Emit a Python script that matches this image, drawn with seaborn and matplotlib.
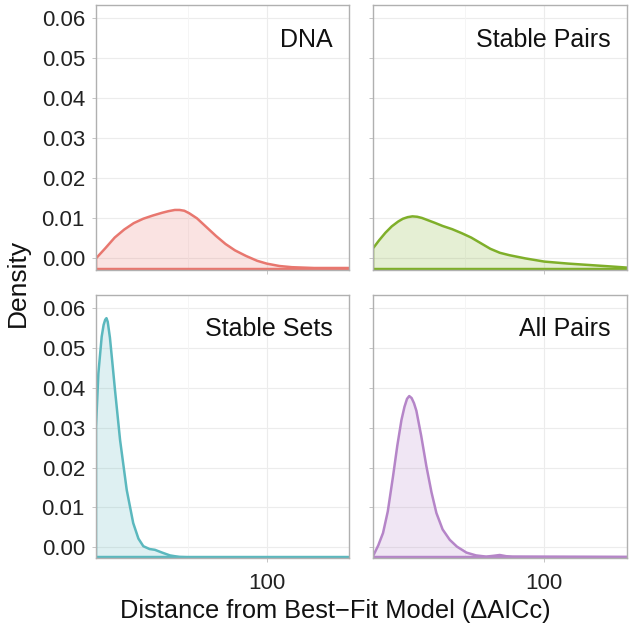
import matplotlib
matplotlib.use("Agg")
import matplotlib.pyplot as plt
import seaborn as sns
import pandas as pd
import numpy as np

sns.set_theme(style="white")
plt.rcParams['font.family'] = ['Liberation Sans', 'DejaVu Sans']

# ---- data (x: ΔAICc, y: density) ----
panels = ["DNA", "Stable Pairs", "Stable Sets", "All Pairs"]
colors = ["#E8776F", "#7FAF2A", "#5BB8BE", "#B585C8"]

dna_x = [-7.8, -2, 4, 10, 16, 22, 28, 34, 38, 42, 45, 48, 51, 56, 62, 68, 74, 80, 87, 94, 100, 108, 116, 130, 152]
dna_y = [0.0000, 0.0025, 0.0052, 0.0072, 0.0088, 0.0099, 0.0107, 0.0114, 0.0118, 0.0121, 0.0121, 0.0119,
         0.0113, 0.0100, 0.0078, 0.0056, 0.0036, 0.0020, 0.0006, -0.0006, -0.0013, -0.0019, -0.0022,
         -0.0024, -0.0024]

sp_x = [-7.8, -4, 0, 4, 8, 11, 14, 17, 20, 23, 27, 31, 36, 42, 48, 54, 60, 66, 72, 78, 88, 100, 115, 130, 145, 152]
sp_y = [0.0025, 0.0045, 0.0064, 0.0080, 0.0092, 0.0099, 0.0103, 0.0105, 0.0104, 0.0101, 0.0095, 0.0089,
        0.0081, 0.0073, 0.0063, 0.0052, 0.0038, 0.0024, 0.0014, 0.0008, 0.0000, -0.0008, -0.0013,
        -0.0017, -0.0021, -0.0023]

ss_x = [-7.8, -6.3, -4.2, -3.0, -2.0, -1.2, -0.4, 1.0, 2.6, 4.2, 7.4, 11.6, 15.7, 19, 22.1, 26, 29.4, 34,
        38.9, 45, 52, 152]
ss_y = [0.0302, 0.0436, 0.0528, 0.0557, 0.0570, 0.0574, 0.0565, 0.0525, 0.0460, 0.0394, 0.0269, 0.0144,
        0.0061, 0.0022, 0.0003, -0.0004, -0.0006, -0.0013, -0.0020, -0.0024, -0.0025, -0.0026]

ap_x = [-7.8, -4.5, -1.5, 1.5, 4.8, 7.5, 10.1, 12.0, 13.6, 15.0, 16.5, 18.0, 19.5, 22.5, 25.8, 29, 32.1,
        36, 40.5, 45, 51, 57, 63.4, 68, 71.9, 76, 80, 152]
ap_y = [-0.0022, 0.0005, 0.0036, 0.0090, 0.0178, 0.0255, 0.0319, 0.0352, 0.0372, 0.0379, 0.0374, 0.0361,
        0.0342, 0.0280, 0.0203, 0.0138, 0.0086, 0.0045, 0.0019, 0.0002, -0.0013, -0.0020, -0.0023,
        -0.0021, -0.0019, -0.0022, -0.0023, -0.0024]

y_ticks = [0.00, 0.01, 0.02, 0.03, 0.04, 0.05, 0.06]
y_tick_labels = ["0.00", "0.01", "0.02", "0.03", "0.04", "0.05", "0.06"]
x_ticks = [100]
x_tick_labels = ["100"]

series = [(dna_x, dna_y), (sp_x, sp_y), (ss_x, ss_y), (ap_x, ap_y)]

XMIN, XMAX = -7.8, 152
YLIMS = [(-0.0029, 0.0633), (-0.0029, 0.0633), (-0.00265, 0.0632), (-0.00265, 0.0632)]

W, H = 633, 636
fig = plt.figure(figsize=(W / 100, H / 100), dpi=100)
fig.patch.set_facecolor("white")

boxes = [(96, 349, 5, 270), (373, 627, 5, 270), (96, 349, 295, 558), (373, 627, 295, 558)]

for i, (name, col, (xs, ys)) in enumerate(zip(panels, colors, series)):
    l, r, t, b = boxes[i]
    ax = fig.add_axes([l / W, 1 - b / H, (r - l) / W, (b - t) / H])
    ymin, ymax = YLIMS[i]
    ax.set_xlim(XMIN, XMAX)
    ax.set_ylim(ymin, ymax)

    # grid
    for yt in y_ticks:
        ax.axhline(yt, color="#ececec", lw=0.8, zorder=0)
    ax.axvline(100, color="#ececec", lw=0.8, zorder=0)
    ax.axvline(50, color="#f4f4f4", lw=0.6, zorder=0)

    # closed outline path like ggplot's density polygon
    px = [xs[0]] + list(xs) + [xs[-1]]
    py = [ymin] + list(ys) + [ymin]
    df = pd.DataFrame({"x": px, "y": py})
    ax.fill_between(xs, ys, ymin, color=col, alpha=0.2, lw=0, zorder=1)
    sns.lineplot(data=df, x="x", y="y", sort=False, color=col, lw=1.8, ax=ax, zorder=3,
                 estimator=None)
    ax.plot([XMIN, XMAX], [ymin, ymin], color=col, lw=3.2, zorder=3, solid_capstyle="butt")

    ax.set_xlabel("")
    ax.set_ylabel("")
    ax.set_yticks(y_ticks)
    ax.set_xticks(x_ticks)
    if i in (0, 2):
        ax.set_yticklabels(y_tick_labels)
    else:
        ax.set_yticklabels([])
    if i in (2, 3):
        ax.set_xticklabels(x_tick_labels)
    else:
        ax.set_xticklabels([])
    ax.tick_params(axis="both", which="both", length=3, width=0.6, color="#bbbbbb",
                   labelsize=16, labelcolor="#222222", left=True, bottom=True)
    ax.tick_params(axis="y", pad=5)
    ax.tick_params(axis="x", pad=8)
    for s in ax.spines.values():
        s.set_color("#b0b0b0")
        s.set_linewidth(1.0)
        s.set_zorder(4)
    ax.set_facecolor("white")
    ax.text(0.937, 0.915, name, transform=ax.transAxes, ha="right", va="top",
            fontsize=18, color="#111111")

fig.text(18 / W, 1 - 283 / H, "Density", rotation=90, ha="center", va="center",
         fontsize=19, color="#111111")
fig.text(335 / W, 1 - 611 / H, "Distance from Best\u2212Fit Model (\u0394AICc)",
         ha="center", va="center", fontsize=18.3, color="#111111")

fig.savefig("out.png", dpi=100, facecolor="white")
